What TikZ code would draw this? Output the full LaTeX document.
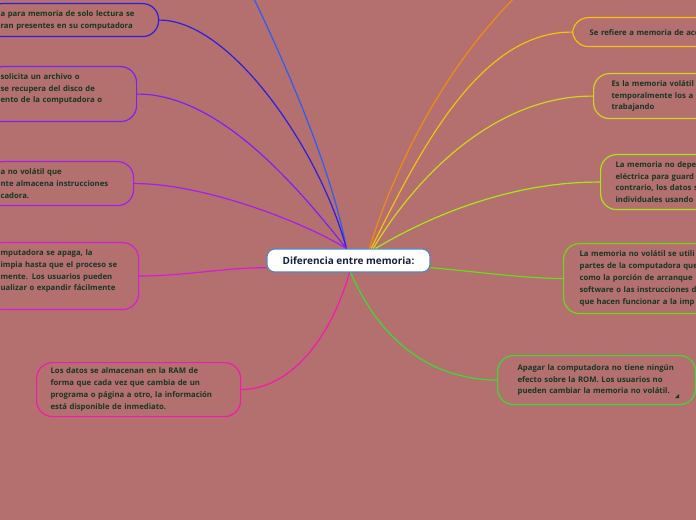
\documentclass[tikz,border=0pt]{standalone}
\usepackage{fontspec}
\newfontfamily\mapfont{Open Sans}

\definecolor{bg}{HTML}{B3706E}
\definecolor{leaftext}{HTML}{173624}
\definecolor{hubtext}{HTML}{15203F}
\definecolor{hubline}{HTML}{4F86C6}
\definecolor{topblue}{HTML}{2D5CF8}
\definecolor{darkblue}{HTML}{2E1CE0}
\definecolor{purple}{HTML}{7B22F2}
\definecolor{violet}{HTML}{A51EEE}
\definecolor{magenta}{HTML}{D81CD6}
\definecolor{pink}{HTML}{F21AB0}
\definecolor{orange}{HTML}{F08C12}
\definecolor{gold}{HTML}{F5C010}
\definecolor{yellow}{HTML}{D2D420}
\definecolor{yellowgreen}{HTML}{A8E61A}
\definecolor{green}{HTML}{6CD91E}
\definecolor{brightgreen}{HTML}{3CDA36}

\newcommand{\backdrop}{
    \fill[bg] (0,0) rectangle (696,520);
    \useasboundingbox (0,0) rectangle (696,520);
    \clip (0,0) rectangle (696,520);
}
\tikzset{x=0.75pt, y=-0.75pt,
    leaf/.style={draw=#1, line width=0.9pt, rounded corners=12pt, anchor=north west,
        align=left, inner xsep=10.5pt, inner ysep=0pt, text=leaftext,
        font=\mapfont\bfseries\fontsize{5.8}{8.9}\selectfont},
    hub/.style={draw=hubline, fill=white, line width=0.8pt, rounded corners=6pt,
        minimum width=122.25pt, minimum height=17.25pt, text=hubtext,
        font=\mapfont\bfseries\fontsize{7.5}{9}\selectfont},
    link/.style={draw=#1, line width=0.9pt}}

\begin{document}
\begin{tikzpicture}
    \backdrop
    % centre
    \node[hub] (c) at (348.5,260.5) {Diferencia entre memoria:};
    % left side
    \node[leaf=darkblue, minimum width=129pt, minimum height=24.75pt, text width=108pt] (n1) at (-14,3)
        {a para memoria de solo lectura se\\ran presentes en su computadora};
    \node[leaf=purple, minimum width=112.5pt, minimum height=41.25pt, text width=91.5pt] (n2) at (-14,66)
        {solicita un archivo o\\se recupera del disco de\\ento de la computadora o\\\mbox{}};
    \node[leaf=violet, minimum width=110.25pt, minimum height=33pt, text width=89.25pt] (n3) at (-14,161)
        {a no volátil que\\nte almacena instrucciones\\cadora.};
    \node[leaf=magenta, minimum width=114pt, minimum height=50.25pt, text width=93pt] (n4) at (-14,242)
        {mputadora se apaga, la\\impia hasta que el proceso se\\mente. Los usuarios pueden\\ualizar o expandir fácilmente\\\mbox{}};
    \node[leaf=pink, minimum width=153pt, minimum height=40.5pt, text width=132pt] (n5) at (36,362)
        {Los datos se almacenan en la RAM de\\forma que cada vez que cambia de un\\programa o página a otro, la información\\está disponible de inmediato.};
    \coordinate (up1) at (235,-40);
    % right side
    \node[leaf=gold, inner xsep=12.75pt, minimum width=150pt, minimum height=21.75pt, text width=124.5pt] (r1) at (572,17)
        {Se refiere a memoria de acc};
    \node[leaf=yellow, inner xsep=13.5pt, minimum width=150pt, minimum height=33.75pt, text width=123pt] (r2) at (593,73)
        {Es la memoria volátil\\temporalmente los a\\trabajando};
    \node[leaf=yellowgreen, inner xsep=11.25pt, minimum width=150pt, minimum height=41.25pt, text width=127.5pt] (r3) at (600,154)
        {La memoria no depe\\eléctrica para guard\\contrario, los datos s\\individuales usando};
    \node[leaf=green, inner xsep=12pt, minimum width=150pt, minimum height=52.5pt, text width=126pt] (r4) at (563,243)
        {La memoria no volátil se utili\\partes de la computadora que\\como la porción de arranque\\software o las instrucciones d\\que hacen funcionar a la imp};
    \node[leaf=brightgreen, inner xsep=15pt, minimum width=147.75pt, minimum height=36.75pt, text width=118.5pt] (r5) at (497,355)
        {Apagar la computadora no tiene ningún\\efecto sobre la ROM. Los usuarios no\\pueden cambiar la memoria no volátil.};
    \fill[leaftext] (675,398) -- (679,398) -- (679,394) -- cycle;
    \coordinate (up2) at (545,-30);
    % links
    \draw[link=topblue] (c.100) .. controls (330,160) and (275,40) .. (up1);
    \draw[link=darkblue] (c.100) .. controls (320,150) and (230,19.5) .. (n1.east);
    \draw[link=purple] (c.100) .. controls (300,190) and (220,93.5) .. (n2.east);
    \draw[link=violet] (c.100) .. controls (300,220) and (200,183) .. (n3.east);
    \draw[link=magenta] (c.-175) .. controls (220,268) and (190,275.5) .. (n4.east);
    \draw[link=pink] (c.-85) .. controls (330,340) and (290,389) .. (n5.east);
    \draw[link=orange] (c.30) .. controls (400,150) and (460,40) .. (up2);
    \draw[link=gold] (c.28) .. controls (420,150) and (480,31.5) .. (r1.west);
    \draw[link=yellow] (c.26) .. controls (420,170) and (500,95.5) .. (r2.west);
    \draw[link=yellowgreen] (c.24) .. controls (440,210) and (520,181.5) .. (r3.west);
    \draw[link=green] (c.-5) .. controls (480,272) and (520,278) .. (r4.west);
    \draw[link=brightgreen] (c.-80) .. controls (380,340) and (430,379.5) .. (r5.west);
\end{tikzpicture}
\end{document}
